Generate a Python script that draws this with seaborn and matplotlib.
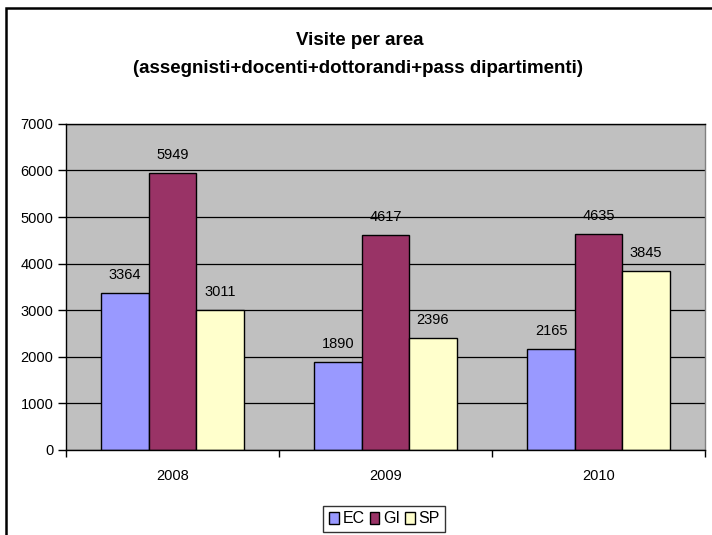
import pandas as pd
import matplotlib
matplotlib.use("Agg")
import matplotlib.pyplot as plt
from matplotlib.patches import Rectangle
from matplotlib.ticker import FixedLocator
import seaborn as sns

years = ["2008", "2009", "2010"]
ec = [3364, 1890, 2165]
gi = [5949, 4617, 4635]
sp = [3011, 2396, 3845]
series = ["EC", "GI", "SP"]
colors = ["#9999FF", "#993366", "#FFFFCC"]

df = pd.DataFrame({
    "anno": years * 3,
    "area": ["EC"] * 3 + ["GI"] * 3 + ["SP"] * 3,
    "visite": ec + gi + sp,
})

sns.set_style("white")
plt.rcParams['font.family'] = ['Liberation Sans', 'DejaVu Sans']
plt.rcParams['text.color'] = 'black'
plt.rcParams['xtick.color'] = 'black'
plt.rcParams['ytick.color'] = 'black'

fig = plt.figure(figsize=(7.12, 5.35), dpi=100)
ax = fig.add_axes([0.0927, 0.1589, 0.8975, 0.6095])
ax.set_facecolor("#C0C0C0")
ax.set_axisbelow(True)
ax.yaxis.grid(True, color="black", lw=0.9)

sns.barplot(data=df, x="anno", y="visite", hue="area", palette=colors,
            width=0.667, edgecolor="black", linewidth=1.0, saturation=1,
            ax=ax, legend=True)

for c in ax.containers:
    ax.bar_label(c, padding=8, fontsize=10.5)

ax.set_ylim(0, 7000)
ax.set_yticks(range(0, 7001, 1000))
ax.set_xlim(-0.5, 2.5)
ax.set_xlabel("")
ax.set_ylabel("")
ax.tick_params(axis="y", left=True, length=6, width=1, color="black", labelsize=10.5, pad=3)
ax.tick_params(axis="x", bottom=False, labelsize=10.5, pad=10)
ax.xaxis.set_minor_locator(FixedLocator([-0.5, 0.5, 1.5, 2.5]))
ax.tick_params(axis="x", which="minor", bottom=True, length=5, width=1, color="black")
for s in ["left", "bottom", "top"]:
    ax.spines[s].set_color("black")
    ax.spines[s].set_linewidth(1)
ax.spines["right"].set_color("#808080")
ax.spines["right"].set_linewidth(1)

ax.get_legend().remove()
handles = [Rectangle((0, 0), 1, 1, facecolor=col, edgecolor="black", lw=1) for col in colors]
leg = fig.legend(handles, series, loc="center", bbox_to_anchor=(0.54, 0.030), ncol=3,
                 frameon=True, fancybox=False, fontsize=11.5, handlelength=0.6,
                 handleheight=0.8, handletextpad=0.25, columnspacing=0.3,
                 borderpad=0.35, borderaxespad=0)
leg.get_frame().set_edgecolor("black")
leg.get_frame().set_linewidth(1)

fig.text(0.505, 0.925, "Visite per area", ha="center", va="center",
         fontsize=13.5, fontweight="bold")
fig.text(0.503, 0.872, "(assegnisti+docenti+dottorandi+pass dipartimenti)",
         ha="center", va="center", fontsize=13.5, fontweight="bold")

fig.add_artist(Rectangle((0.009, -0.1), 1.2, 1.085, transform=fig.transFigure,
                         fill=False, edgecolor="black", lw=1.8))

fig.savefig("out.png", dpi=100)
